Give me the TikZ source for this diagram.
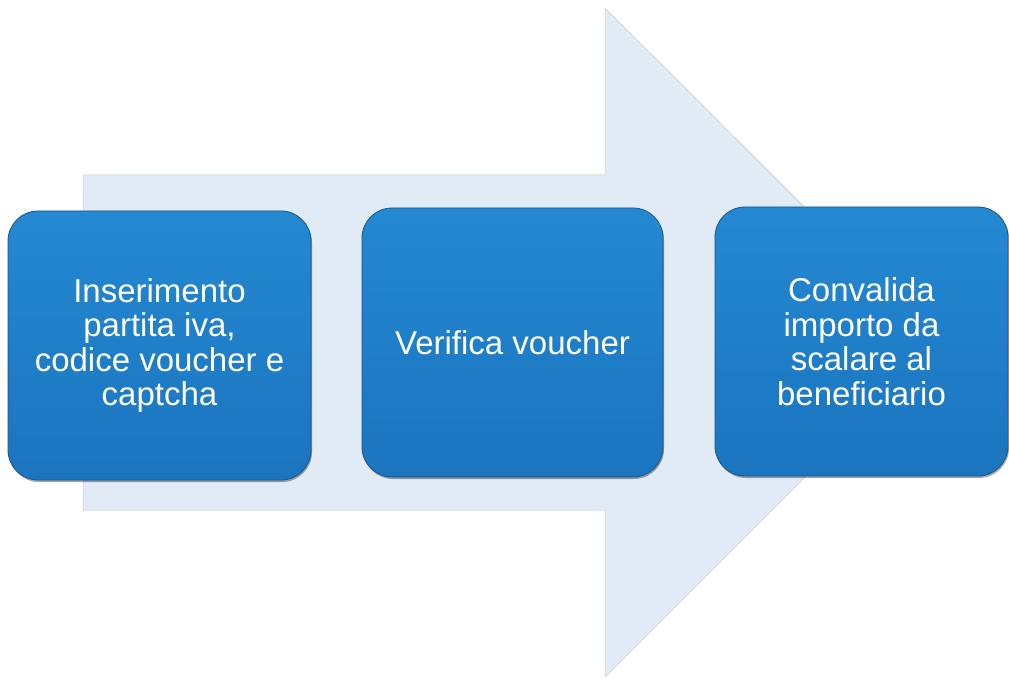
\documentclass[tikz,border=0pt]{standalone}
\usepackage{fontspec}
\setmainfont{Liberation Sans}
\usetikzlibrary{shadows}
\definecolor{arrowfill}{HTML}{E0EBF5}
\definecolor{arrowedge}{HTML}{C4CCD4}
\definecolor{boxtop}{HTML}{2489D2}
\definecolor{boxbot}{HTML}{1B74BE}
\definecolor{boxedge}{HTML}{1A5488}
\tikzset{
  stepbox/.style={rectangle, rounded corners=30pt, draw=boxedge, line width=0.8pt,
    top color=boxtop, bottom color=boxbot, text=white, align=center,
    inner sep=0pt, minimum height=269pt,
    font=\fontsize{33}{34.5}\selectfont,
    drop shadow={shadow xshift=1pt, shadow yshift=-2pt, opacity=0.35, fill=black}},
  bigarrow/.style={fill=arrowfill, draw=arrowedge, line width=0.5pt}
}
\begin{document}
\begin{tikzpicture}[x=1pt,y=-1pt]
\useasboundingbox (0,0) rectangle (1009,679);
\fill[white] (0,0) rectangle (1009,679);
\draw[bigarrow] (83,175) -- (605,175) -- (605,8) -- (940,342) -- (605,677) -- (605,510) -- (83,510) -- cycle;
\node[stepbox, minimum width=303pt] (s1) at (159.5,345.5) {Inserimento\\partita iva,\\codice voucher e\\captcha};
\node[stepbox, minimum width=301pt] (s2) at (512.5,342.5) {Verifica voucher};
\node[stepbox, minimum width=293pt] (s3) at (861.5,341.5) {Convalida\\importo da\\scalare al\\beneficiario};
\end{tikzpicture}
\end{document}
